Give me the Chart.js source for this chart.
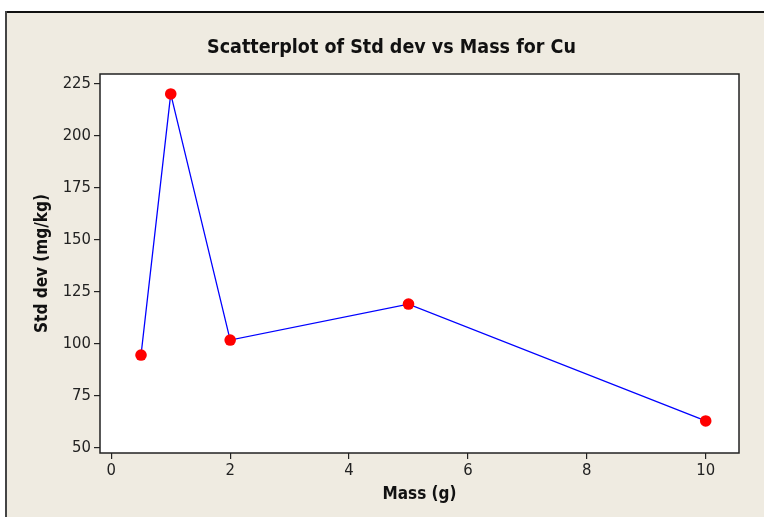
<!DOCTYPE html>
<html>
<head>
<meta charset="utf-8">
<script src="https://cdn.jsdelivr.net/npm/chart.js@4"></script>
<style>
  html, body { margin: 0; padding: 0; background: #ffffff; }
  #wrap { width: 764px; height: 517px; position: relative; }
</style>
</head>
<body>
<div id="wrap"><canvas id="c" width="764" height="517"></canvas></div>
<script>
const titleText = "Scatterplot of Std dev vs Mass for Cu";
const xTitle = "Mass (g)";
const yTitle = "Std dev (mg/kg)";
const massValues = [0.5, 1, 2, 5, 10];
const stdDevValues = [94.7, 220.2, 101.9, 119.2, 63.0];
const xTicks = [0, 2, 4, 6, 8, 10];
const yTicks = [50, 75, 100, 125, 150, 175, 200, 225];

const FONT = "'DejaVu Sans Condensed', 'Liberation Sans Narrow', 'DejaVu Sans', sans-serif";

const framePlugin = {
  id: 'frame',
  afterLayout(chart) {
    if (chart.titleBlock) {
      chart.titleBlock.left = 44;
      chart.titleBlock.right = 739;
    }
  },
  beforeDraw(chart) {
    const ctx = chart.ctx;
    ctx.save();
    ctx.fillStyle = '#ffffff';
    ctx.fillRect(0, 0, chart.width, chart.height);
    ctx.fillStyle = '#efebe1';
    ctx.fillRect(7, 12, chart.width - 7, chart.height - 12);
    ctx.fillStyle = '#111111';
    ctx.fillRect(6, 11, chart.width - 6, 2);
    ctx.fillStyle = '#444444';
    ctx.fillRect(5, 11, 2, chart.height - 11);
    const a = chart.chartArea;
    ctx.fillStyle = '#ffffff';
    ctx.fillRect(a.left, a.top, a.right - a.left, a.bottom - a.top);
    ctx.restore();
  },
  afterDatasetsDraw(chart) {
    const ctx = chart.ctx;
    const a = chart.chartArea;
    ctx.save();
    ctx.strokeStyle = '#222222';
    ctx.lineWidth = 1.5;
    ctx.strokeRect(a.left, a.top, a.right - a.left, a.bottom - a.top);
    ctx.restore();
  }
};

new Chart(document.getElementById('c'), {
  type: 'scatter',
  data: {
    datasets: [{
      data: massValues.map((m, i) => ({ x: m, y: stdDevValues[i] })),
      showLine: true,
      borderColor: '#0000ff',
      borderWidth: 1.3,
      tension: 0,
      pointRadius: 5.8,
      pointHoverRadius: 5.8,
      pointBackgroundColor: '#ff0000',
      pointBorderColor: '#ff0000',
      pointBorderWidth: 0
    }]
  },
  plugins: [framePlugin],
  options: {
    responsive: false,
    animation: false,
    devicePixelRatio: 1,
    layout: { padding: { left: 0, right: 25, top: 0, bottom: 0 } },
    plugins: {
      legend: { display: false },
      tooltip: { enabled: false },
      title: {
        display: true,
        text: titleText,
        color: '#111111',
        font: { family: FONT, size: 19.5, weight: 'bold' },
        padding: { top: 36.5, bottom: 14.1 }
      }
    },
    scales: {
      x: {
        type: 'linear',
        min: -0.19,
        max: 10.56,
        afterBuildTicks(s) { s.ticks = xTicks.map(v => ({ value: v })); },
        afterFit(s) { s.height = 64; },
        grid: { display: true, drawOnChartArea: false, drawTicks: true, tickLength: 6, color: '#222222', lineWidth: 1.2 },
        border: { display: false },
        ticks: { color: '#222222', font: { family: FONT, size: 16.5 }, padding: 2, maxRotation: 0 },
        title: { display: true, text: xTitle, color: '#111111', font: { family: FONT, size: 17, weight: 'bold' }, padding: { top: 2, bottom: 11.8 } }
      },
      y: {
        type: 'linear',
        min: 47.6,
        max: 229.8,
        afterBuildTicks(s) { s.ticks = yTicks.map(v => ({ value: v })); },
        afterFit(s) { s.width = 100; },
        grid: { display: true, drawOnChartArea: false, drawTicks: true, tickLength: 6, color: '#222222', lineWidth: 1.2 },
        border: { display: false },
        ticks: { color: '#222222', font: { family: FONT, size: 16.5 }, padding: 3 },
        title: { display: true, text: yTitle, color: '#111111', font: { family: FONT, size: 17, weight: 'bold' }, padding: { top: 32.8, bottom: 0 } }
      }
    }
  }
});
</script>
</body>
</html>
